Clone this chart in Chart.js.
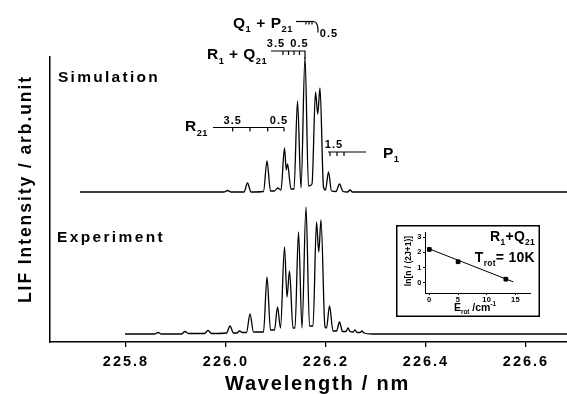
<!DOCTYPE html>
<html>
<head>
<meta charset="utf-8">
<script src="https://cdn.jsdelivr.net/npm/chart.js@4.4.1/dist/chart.umd.min.js"></script>
<style>
  html, body { margin: 0; padding: 0; background: #fff; }
  #wrap { position: relative; width: 567px; height: 394px; overflow: hidden; }
  #main { position: absolute; left: 0; top: 0; }
  #inset { position: absolute; left: 396px; top: 225px; }
</style>
</head>
<body>
<div id="wrap">
  <canvas id="main" width="567" height="394"></canvas>
  <canvas id="inset" width="144" height="92"></canvas>
</div>
<script>
const FONT = '"Liberation Sans", Arial, Helvetica, sans-serif';

// wavelength axis ticks (nm)
const xTicks = [225.8, 226.0, 226.2, 226.4, 226.6];

// simulated spectrum
const simWl = [225.708,
  225.996, 226.003, 226.010,
  226.036, 226.043, 226.050,
  226.075, 226.082, 226.089,
  226.097, 226.103, 226.110,
  226.117, 226.1205, 226.123, 226.130,
  226.136, 226.143, 226.150,
  226.158, 226.165,
  226.172, 226.179, 226.1835, 226.188, 226.195,
  226.199, 226.205, 226.211,
  226.220, 226.227, 226.234,
  226.243, 226.248, 226.253,
  226.682];
const simInt = [150,
  150, 151.5, 150,
  150, 159, 150,
  150.5, 181, 151,
  151, 154, 152,
  194, 172, 178, 153,
  153, 241, 154,
  285, 156,
  158, 250, 228, 254, 155,
  152, 170, 151,
  150.5, 158, 150.5,
  150, 152, 150,
  150];

const expWl = [225.798,
  225.857, 225.864, 225.871,
  225.911, 225.918, 225.925,
  225.957, 225.964, 225.971,
  226.001, 226.008, 226.015,
  226.022, 226.027, 226.033,
  226.041, 226.048, 226.055,
  226.075, 226.082, 226.089,
  226.097, 226.103, 226.109,
  226.117, 226.122, 226.127, 226.134,
  226.138, 226.145, 226.152,
  226.160, 226.167,
  226.174, 226.181, 226.1855, 226.190, 226.198,
  226.201, 226.207, 226.214,
  226.221, 226.227, 226.233,
  226.240, 226.244, 226.248,
  226.254, 226.258, 226.262,
  226.268, 226.272, 226.276,
  226.292, 226.682];
const expInt = [8,
  8, 9.5, 8,
  8, 10.5, 8.5,
  8.5, 11.5, 8.5,
  9, 16, 9,
  9, 11, 9.5,
  9.5, 28, 10,
  10, 65, 12,
  12, 35, 14,
  95, 45, 71, 14,
  14, 110, 14,
  135, 16,
  16, 120, 90, 122, 15,
  14, 36, 11,
  11, 20, 10.5,
  10.5, 14, 10.5,
  10, 12, 9.5,
  9.5, 11, 9,
  8, 8];

// rotational line positions (nm) marked above the simulation
const r21Lines = [226.0134, 226.048, 226.0834, 226.116];
const r1q21Lines = [226.114, 226.125, 226.136, 226.147];
const q1p21Lines = [226.160, 226.166, 226.172];
const p1Lines = [226.208, 226.222, 226.236];

// Boltzmann plot (inset)
const eRot = [0, 5, 13.3];
const lnPop = [2.2, 1.38, 0.22];
const fitE = [-0.3, 14.6];
const fitLn = [2.28, 0.04];
const insetXTicks = [0, 5, 10, 15];
const insetYTicks = [0, 1, 2, 3];

const toPts = (xs, ys) => xs.map((x, i) => ({ x: x, y: ys[i] }));

// text with subscripts / superscripts; parts: "txt" or ["txt","sub"|"sup"]
function rich(ctx, parts, x, y, size, opt = {}) {
  const align = opt.align || 'left';
  ctx.save();
  ctx.fillStyle = '#000';
  ctx.textAlign = 'left';
  ctx.textBaseline = 'alphabetic';
  ctx.letterSpacing = '0px';
  const segs = parts.map(p => {
    const small = Array.isArray(p);
    const t = small ? p[0] : p;
    const s = small ? size * 0.6 : size;
    const dy = small ? (p[1] === 'sub' ? size * 0.3 : -size * 0.45) : 0;
    ctx.font = 'bold ' + s + 'px ' + FONT;
    return { t, s, dy, w: ctx.measureText(t).width, n: t.length };
  });
  const nat = segs.reduce((a, g) => a + g.w, 0);
  const nch = segs.reduce((a, g) => a + g.n, 0);
  const track = opt.width ? (opt.width - nat) / nch : (opt.track || 0);
  const total = nat + track * nch;
  if (opt.rotate) { ctx.translate(x, y); ctx.rotate(opt.rotate); x = 0; y = 0; }
  let cx = align === 'center' ? x - total / 2 : align === 'right' ? x - total : x;
  ctx.letterSpacing = track + 'px';
  segs.forEach(g => {
    ctx.font = 'bold ' + g.s + 'px ' + FONT;
    ctx.fillText(g.t, cx, y + g.dy);
    cx += g.w + track * g.n;
  });
  ctx.restore();
}

function line(ctx, pts, w) {
  ctx.beginPath();
  ctx.moveTo(pts[0][0], pts[0][1]);
  for (let i = 1; i < pts.length; i++) ctx.lineTo(pts[i][0], pts[i][1]);
  ctx.lineWidth = w || 1.2;
  ctx.strokeStyle = '#000';
  ctx.stroke();
}

const mainLabels = {
  id: 'mainLabels',
  beforeDraw(chart) {
    chart.ctx.letterSpacing = '2px';
  },
  afterDraw(chart) {
    const ctx = chart.ctx;
    const xs = chart.scales.x;
    const px = v => xs.getPixelForValue(v);

    // axis titles
    rich(ctx, ['LIF Intensity / arb.unit'], 31, 189, 17.5, { width: 228, align: 'center', rotate: -Math.PI / 2 });
    rich(ctx, ['Wavelength / nm'], 317.5, 390, 20, { width: 185, align: 'center' });

    rich(ctx, ['Simulation'], 58, 81.5, 15.5, { width: 102 });
    rich(ctx, ['Experiment'], 57, 241.5, 15.5, { width: 108 });

    // R21 branch
    rich(ctx, ['R', ['21', 'sub']], 185, 131, 15.5, { track: 0.5 });
    const yR = 127.5;
    line(ctx, [[px(225.974), yR], [px(r21Lines[3]), yR]]);
    r21Lines.forEach(l => line(ctx, [[px(l), yR], [px(l), yR + 4]]));
    rich(ctx, ['3.5'], px(r21Lines[0]), 124, 11, { track: 1, align: 'center' });
    rich(ctx, ['0.5'], px(r21Lines[3]) - 5, 124, 11, { track: 1, align: 'center' });

    // R1 + Q21 branch
    rich(ctx, ['R', ['1', 'sub'], ' + Q', ['21', 'sub']], 207, 59, 15.5, { width: 60 });
    const yRQ = 51;
    line(ctx, [[px(226.09), yRQ], [px(226.158), yRQ], [px(226.158), 59]]);
    r1q21Lines.forEach(l => line(ctx, [[px(l), yRQ], [px(l), yRQ + 4]]));
    rich(ctx, ['3.5'], px(226.1), 47, 11, { track: 1, align: 'center' });
    rich(ctx, ['0.5'], px(226.147), 47, 11, { track: 1, align: 'center' });

    // Q1 + P21 branch
    rich(ctx, ['Q', ['1', 'sub'], ' + P', ['21', 'sub']], 233, 27.5, 15.5, { width: 60 });
    const yQ = 21.5;
    line(ctx, [[px(226.14), yQ], [px(226.174), yQ]]);
    q1p21Lines.forEach(l => line(ctx, [[px(l), yQ], [px(l), yQ + 3]]));
    ctx.beginPath();
    ctx.moveTo(px(226.174), yQ);
    ctx.quadraticCurveTo(px(226.185), yQ, px(226.184), yQ + 11);
    ctx.lineWidth = 1.2;
    ctx.stroke();
    rich(ctx, ['0.5'], 329, 37, 11, { track: 1, align: 'center' });

    // P1 branch
    const yP = 152;
    line(ctx, [[px(226.204), yP], [px(226.28), yP]]);
    p1Lines.forEach(l => line(ctx, [[px(l), yP], [px(l), yP + 4]]));
    rich(ctx, ['1.5'], px(226.216), 148, 11, { track: 1, align: 'center' });
    rich(ctx, ['P', ['1', 'sub']], 383, 157.5, 15.5, { track: 0.5 });
  }
};

new Chart(document.getElementById('main'), {
  type: 'line',
  data: {
    datasets: [
      { data: toPts(simWl, simInt), borderColor: '#000', borderWidth: 1.3, pointRadius: 0, cubicInterpolationMode: 'monotone', fill: false },
      { data: toPts(expWl, expInt), borderColor: '#000', borderWidth: 1.3, pointRadius: 0, cubicInterpolationMode: 'monotone', fill: false }
    ]
  },
  options: {
    responsive: false,
    animation: false,
    devicePixelRatio: 1,
    layout: { padding: { top: 57, right: 0, left: 0, bottom: 0 } },
    plugins: { legend: { display: false }, tooltip: { enabled: false } },
    scales: {
      x: {
        type: 'linear', min: 225.648, max: 226.682,
        afterBuildTicks: s => { s.ticks = xTicks.map(v => ({ value: v })); },
        afterFit: s => { s.height = 52; },
        ticks: { callback: v => v.toFixed(1), font: { family: FONT, size: 14.5, weight: 'bold' }, color: '#000', padding: 6, maxRotation: 0, autoSkip: false },
        grid: { display: true, drawOnChartArea: false, drawTicks: true, tickLength: 5, color: '#000', lineWidth: 1.3 },
        border: { display: true, color: '#000', width: 1.5 }
      },
      y: {
        min: 0, max: 285,
        afterFit: s => { s.width = 50; },
        ticks: { display: false },
        grid: { display: false },
        border: { display: true, color: '#000', width: 1.5 }
      }
    }
  },
  plugins: [mainLabels]
});

const insetLabels = {
  id: 'insetLabels',
  beforeDraw(chart) {
    const ctx = chart.ctx;
    ctx.save();
    ctx.fillStyle = '#fff';
    ctx.fillRect(0, 0, chart.width, chart.height);
    ctx.strokeStyle = '#000';
    ctx.lineWidth = 1.5;
    ctx.strokeRect(0.75, 0.75, chart.width - 1.5, chart.height - 1.5);
    ctx.restore();
    ctx.letterSpacing = '0.5px';
  },
  afterDraw(chart) {
    const ctx = chart.ctx;
    rich(ctx, ['R', ['1', 'sub'], '+Q', ['21', 'sub']], 139, 15.5, 14, { align: 'right', track: 0.3 });
    rich(ctx, ['T', ['rot', 'sub'], '= 10K'], 139, 36.5, 14, { align: 'right', track: 0.3 });
    rich(ctx, ['E', ['rot', 'sub'], ' /cm', ['-1', 'sup']], 79, 86, 10.5, { align: 'center' });
    rich(ctx, ['ln[n / (2J+1)]'], 15, 36, 8.5, { align: 'center', rotate: -Math.PI / 2 });
  }
};

new Chart(document.getElementById('inset'), {
  type: 'scatter',
  data: {
    datasets: [
      { data: toPts(eRot, lnPop), pointStyle: 'rect', pointRadius: 2.6, backgroundColor: '#000', borderColor: '#000', showLine: false },
      { data: toPts(fitE, fitLn), showLine: true, pointRadius: 0, borderColor: '#000', borderWidth: 1 }
    ]
  },
  options: {
    responsive: false,
    animation: false,
    devicePixelRatio: 1,
    layout: { padding: { top: 7, right: 10, left: 0, bottom: 0 } },
    plugins: { legend: { display: false }, tooltip: { enabled: false } },
    scales: {
      x: {
        type: 'linear', min: -0.75, max: 17.5,
        afterBuildTicks: s => { s.ticks = insetXTicks.map(v => ({ value: v })); },
        afterFit: s => { s.height = 24; },
        ticks: { font: { family: FONT, size: 7.5, weight: 'bold' }, color: '#000', padding: 0, maxRotation: 0, autoSkip: false },
        grid: { drawOnChartArea: false, tickLength: 2, color: '#000' },
        border: { color: '#000', width: 1 }
      },
      y: {
        type: 'linear', min: -0.7, max: 3.36,
        afterBuildTicks: s => { s.ticks = insetYTicks.map(v => ({ value: v })); },
        afterFit: s => { s.width = 29; },
        ticks: { font: { family: FONT, size: 7.5, weight: 'bold' }, color: '#000', padding: 1 },
        grid: { drawOnChartArea: false, tickLength: 2, color: '#000' },
        border: { color: '#000', width: 1 }
      }
    }
  },
  plugins: [insetLabels]
});
</script>
</body>
</html>
